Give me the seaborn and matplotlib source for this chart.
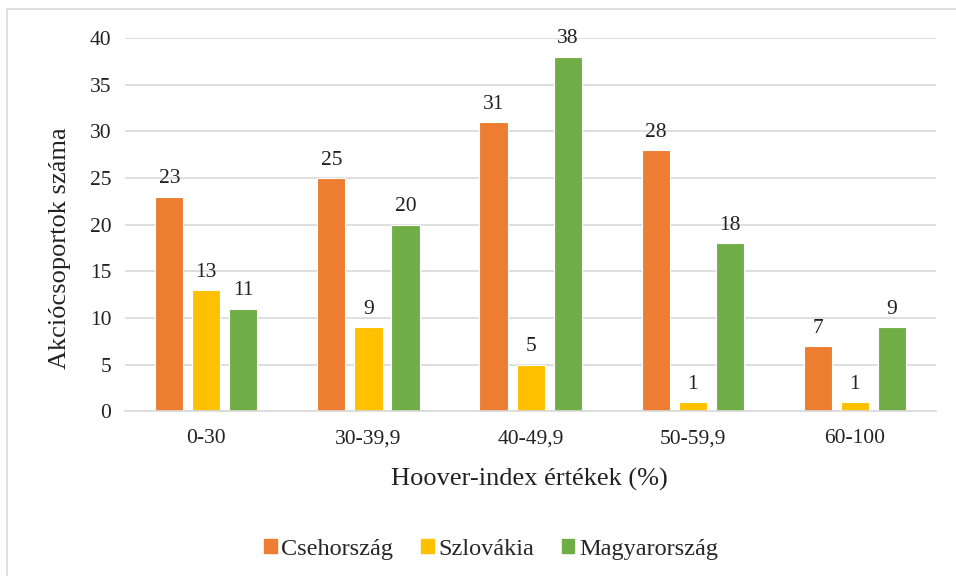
import pandas as pd
import matplotlib.pyplot as plt
import seaborn as sns
from matplotlib.lines import Line2D
from matplotlib.patches import Patch

# Data
categories = ['0-30', '30-39,9', '40-49,9', '50-59,9', '60-100']
countries = ['Csehország', 'Szlovákia', 'Magyarország']
cseh = [23, 25, 31, 28, 7]
szlovak = [13, 9, 5, 1, 1]
magyar = [11, 20, 38, 18, 9]
colors = ['#ED7D31', '#FFC000', '#70AD47']

df = pd.DataFrame({
    'kategoria': categories * 3,
    'orszag': [countries[0]] * 5 + [countries[1]] * 5 + [countries[2]] * 5,
    'ertek': cseh + szlovak + magyar,
})

sns.set_style('white')
plt.rcParams['font.family'] = ['Liberation Serif', 'DejaVu Serif']

fig, ax = plt.subplots(figsize=(9.56, 5.76), dpi=100)
fig.subplots_adjust(left=0.131, right=0.979, top=0.934, bottom=0.286)

sns.barplot(data=df, x='kategoria', y='ertek', hue='orszag', palette=colors,
            saturation=1, width=0.685, gap=0.24, edgecolor='white', linewidth=0.8,
            ax=ax, legend=False)

for cont in ax.containers:
    ax.bar_label(cont, padding=6, fontsize=15.5, color='#222222')

ax.set_ylim(0, 40)
ax.set_yticks(range(0, 41, 5))
ax.yaxis.grid(True, color='#d9d9d9', linewidth=1.2)
ax.set_axisbelow(True)
for s in ['top', 'right', 'left']:
    ax.spines[s].set_visible(False)
ax.spines['bottom'].set_color('#d9d9d9')
ax.spines['bottom'].set_linewidth(1.2)
ax.tick_params(axis='both', length=0, labelsize=15.5, colors='#222222', pad=10)
ax.tick_params(axis='x', pad=13)
ax.set_xlabel('Hoover-index értékek (%)', fontsize=19, color='#222222')
ax.set_ylabel('Akciócsoportok száma', fontsize=19, color='#222222')
ax.xaxis.set_label_coords(0.498, -0.153)
ax.yaxis.set_label_coords(-0.067, 0.437)

handles = [Patch(facecolor=c, edgecolor=c) for c in colors]
fig.legend(handles, countries, loc='center', bbox_to_anchor=(0.514, 0.046), ncol=3,
           frameon=False, fontsize=17.5, handlelength=0.5, handleheight=0.5,
           handletextpad=0.2, columnspacing=1.15)

# light frame around the chart area
fig.add_artist(Line2D([0.0073, 1.0], [0.984, 0.984], color='#d9d9d9', linewidth=1.2,
                      transform=fig.transFigure))
fig.add_artist(Line2D([0.0073, 0.0073], [0.0, 0.984], color='#d9d9d9', linewidth=1.2,
                      transform=fig.transFigure))

plt.savefig('out.png', dpi=100)
